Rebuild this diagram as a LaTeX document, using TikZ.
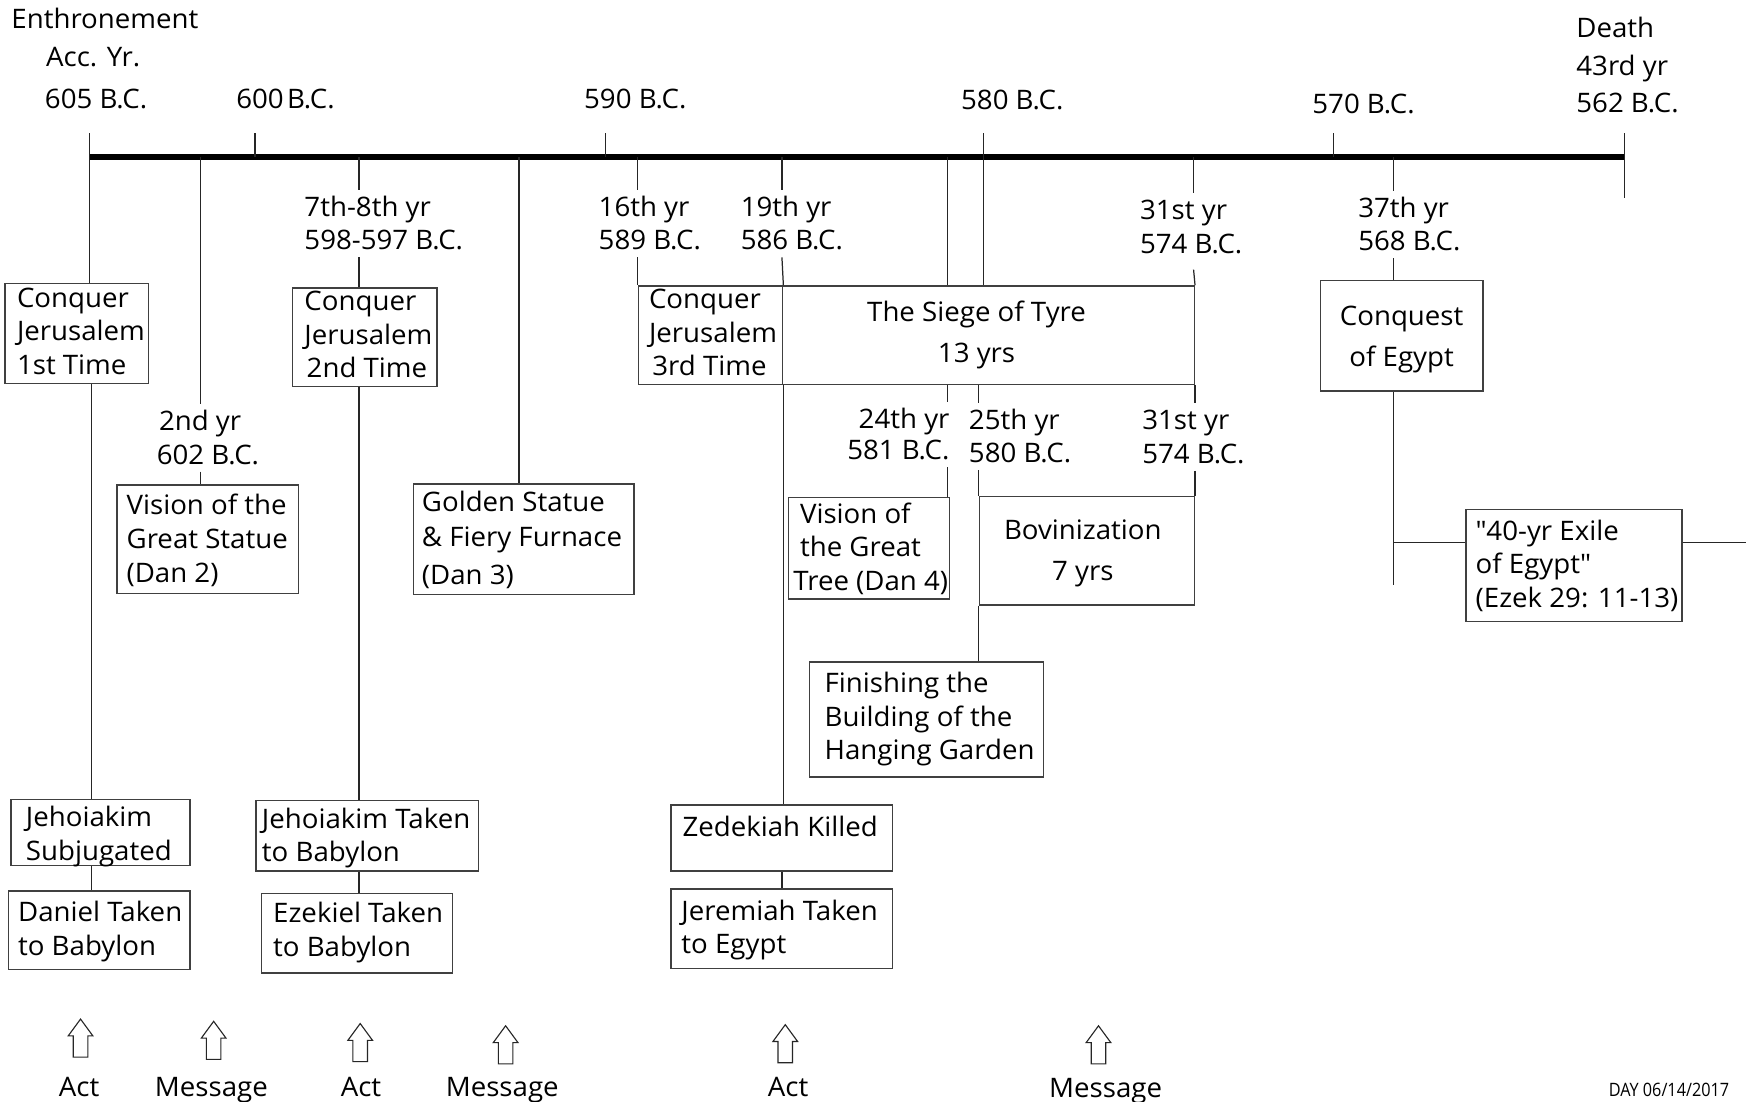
\documentclass[tikz,border=0pt]{standalone}
\usepackage{fontspec}
\setmainfont[FakeStretch=1.03]{Open Sans}
\newfontfamily\dayfont[FakeStretch=0.88]{Open Sans}
\newcommand\tstr{\rule{0pt}{20pt}}
\newcommand\bstr{\rule[-3pt]{0pt}{3pt}}
\newcommand\mainsize{\fontsize{24}{30}\selectfont}
\tikzset{
  ln/.style={line width=1.1pt, draw=black!85},
  box/.style={draw=black!75, line width=1.3pt, inner sep=0pt},
  tx/.style={inner sep=0pt, font=\mainsize, align=left, anchor=north west, yshift=11.4pt},
  txc/.style={tx, align=center, anchor=north},
  txb/.style={inner sep=0pt, font=\mainsize, anchor=base},
  lb/.style={inner xsep=0pt, inner ysep=3.5pt, font=\mainsize, align=left, anchor=north west, yshift=14.9pt},
  arr/.style={draw=black!85, line width=1pt, fill=white, line join=miter},
}
\newcommand\bx[5]{%
  \pgfmathsetmacro\bxw{#4-#2}\pgfmathsetmacro\bxh{#5-#3}%
  \node[box, minimum width=\bxw pt, minimum height=\bxh pt, anchor=north west] (#1) at (#2,#3) {};}
\newcommand\uparr[3]{%
  \coordinate (#1) at (#2,#3);
  \draw[arr] (#1) -- ++(11,15) -- ++(-4.5,0) -- ++(0,19) -- ++(-13,0) -- ++(0,-19) -- ++(-4.5,0) -- cycle;}
\begin{document}
\begin{tikzpicture}[x=1pt,y=-1pt]
\useasboundingbox (0,0) rectangle (1568,985);
\fill[white] (0,0) rectangle (1568,985);

% ---------- boxes ----------
\bx{b1}{4}{253}{132}{342}
\bx{b2}{261}{257}{390}{345}
\bx{b3}{570}{255}{699}{343}
\bx{siege}{699}{255}{1067}{343}
\bx{vstat}{104}{433}{266}{530}
\bx{gold}{369}{432}{566}{531}
\bx{tree}{704}{444}{848}{535}
\bx{bov}{875}{443}{1067}{540}
\bx{fin}{723}{591}{932}{694}
\bx{zed}{599}{719}{797}{778}
\bx{jer}{599}{794}{797}{865}
\bx{conq}{1180}{250}{1325}{349}
\bx{exile}{1310}{455}{1503}{555}
\bx{jsub}{9}{714}{169}{773}
\bx{dan}{7}{796}{169}{866}
\bx{jtak}{228}{715}{427}{778}
\bx{ezk}{233}{798}{404}{869}

% ---------- timeline ----------
\coordinate (tlA) at (80,140.5);
\coordinate (tlB) at (1452,140.5);
\draw[line width=5pt, line cap=butt] (tlA) -- (tlB);

\coordinate (a605) at (80,119);
\coordinate (a600) at (228,119);  \coordinate (m600) at (228,140);
\coordinate (a590) at (541,119);  \coordinate (m590) at (541,140);
\coordinate (a580) at (879,119);
\coordinate (a570) at (1192,119); \coordinate (m570) at (1192,140);
\coordinate (a562) at (1452,119); \coordinate (m562) at (1452,177);
\coordinate (v82) at (82,342);
\coordinate (v179) at (179,140);
\coordinate (v321) at (321,140);
\coordinate (v464) at (464,140);
\coordinate (v570) at (570,140);
\coordinate (v699) at (699,140);
\coordinate (v847) at (847,140);
\coordinate (v1067) at (1067,140);
\coordinate (v1246) at (1246,140);
\coordinate (e1246) at (1246,523);
\coordinate (h484) at (1246,485);
\coordinate (eR) at (1561,485);

% ---------- top labels ----------
\node[tx] (ent) at (10,17) {\tstr Enthronement};
\node[tx] (acc) at (41,50.7) {\tstr Acc. Yr.};
\node[tx] (y605) at (40,88) {\tstr 605 B.C.};
\node[tx] (y600) at (211,88) {\tstr 600\hspace{3pt}B.C.};
\node[tx] (y590) at (522,88) {\tstr 590 B.C.};
\node[tx] (y580) at (859,89.4) {\tstr 580 B.C.};
\node[tx] (y570) at (1173,93) {\tstr 570 B.C.};
\node[tx] (death) at (1409,25) {\tstr Death\\[3.5pt]43rd yr\\[3.5pt]562 B.C.};

% ---------- year labels ----------
\node[lb] (l7) at (272,184.5) {\tstr 7th-8th yr\\598-597 B.C.\bstr};
\node[lb] (l16) at (535,184.5) {\tstr 16th yr\\589 B.C.\bstr};
\node[lb] (l19) at (662,184.5) {\tstr 19th yr\\586 B.C.\bstr};
\node[lb] (l31a) at (1019,187.5) {\tstr 31st yr\\574 B.C.\rule[-11pt]{0pt}{3pt}};
\node[lb] (l37) at (1214,185.5) {\tstr 37th yr\\568 B.C.\bstr};
\node[lb] (l2) at (140,376) {\tstr\hspace*{2pt}2nd yr\\602 B.C.\bstr};
\node[lb, anchor=north east, align=right] (l24) at (849,374) {\tstr 24th yr\\[-2pt]581 B.C.\bstr};
\node[lb] (l25) at (866,375) {\tstr 25th yr\\580 B.C.\bstr};
\node[lb] (l31b) at (1021,375.5) {\tstr 31st yr\\574 B.C.\bstr};

% ---------- box texts ----------
\node[tx] (b1t) at (15,266) {\tstr Conquer\\Jerusalem\\1st Time};
\node[tx] (b2t) at (272,269) {\tstr Conquer\\Jerusalem\\\hspace*{2pt}2nd Time};
\node[tx] (b3t) at (580,267) {\tstr Conquer\\Jerusalem\\\hspace*{3pt}3rd Time};
\node[txc] (siegt) at (873,278.5) {\tstr The Siege of Tyre\\[7pt]13 yrs};
\node[tx] (vstatt) at (113,451.5) {\tstr Vision of the\\Great Statue\\(Dan 2)};
\node[tx] (goldt) at (377,448.5) {\tstr Golden Statue\\[1.5pt]\& Fiery Furnace\\[4pt](Dan 3)};
\node[tx] (treet) at (709,459) {\tstr\hspace*{6pt}Vision of\\\hspace*{6pt}the Great\\Tree (Dan 4)};
\node[txc] (bovt) at (968,473.5) {\tstr Bovinization\\[7pt]7 yrs};
\node[tx] (fint) at (737,610.5) {\tstr Finishing the\\Building of the\\Hanging Garden};
\node[txc] (conqt) at (1253,282) {\tstr Conquest\\[7pt]of Egypt};
\node[tx] (exilet) at (1319,474) {\tstr \textquotedbl 40-yr Exile\\of Egypt\textquotedbl\\(Ezek 29: 11-13)};
\node[tx] (jsubt) at (23,730) {\tstr Jehoiakim\\Subjugated};
\node[tx] (dant) at (16,815) {\tstr Daniel Taken\\to Babylon};
\node[tx] (jtakt) at (234,731.5) {\tstr Jehoiakim Taken\\to Babylon};
\node[tx] (ezkt) at (244,816) {\tstr Ezekiel Taken\\to Babylon};
\node[tx] (zedt) at (610,739) {\tstr Zedekiah Killed};
\node[tx] (jert) at (609,814) {\tstr Jeremiah Taken\\to Egypt};

% ---------- connectors ----------
\draw[ln] (a605) -- (a605 |- b1.north);
\draw[ln] (a600) -- (m600);
\draw[ln] (a590) -- (m590);
\draw[ln] (a570) -- (m570);
\draw[ln] (a562) -- (m562);
\draw[ln] (a580) -- (a580 |- siege.north);
\draw[ln] (v82 |- b1.south) -- (v82 |- jsub.north);
\draw[ln] (v82 |- jsub.south) -- (v82 |- dan.north);
\draw[ln] (v179) -- (v179 |- l2.north);
\draw[ln] (v179 |- l2.south) -- (v179 |- vstat.north);
\draw[ln] (v321) -- (v321 |- l7.north);
\draw[ln] (v321 |- l7.south) -- (v321 |- b2.north);
\draw[ln] (v321 |- b2.south) -- (v321 |- jtak.north);
\draw[ln] (v321 |- jtak.south) -- (v321 |- ezk.north);
\draw[ln] (v464) -- (v464 |- gold.north);
\draw[ln] (v570) -- (v570 |- l16.north);
\draw[ln] (v570 |- l16.south) -- (b3.north west);
\draw[ln] (v699) -- (v699 |- l19.north);
\draw[ln] (v699 |- l19.south) -- (b3.north east);
\draw[ln] (b3.south east) -- (b3.south east |- zed.north);
\draw[ln] (v699 |- zed.south) -- (v699 |- jer.north);
\draw[ln] (v847) -- (v847 |- siege.north);
\draw[ln] (v847 |- siege.south) -- (v847 |- l24.north);
\draw[ln] (v847 |- l24.south) -- (v847 |- tree.north);
\draw[ln] (bov.west |- siege.south) -- (bov.west |- l25.north);
\draw[ln] (bov.west |- l25.south) -- (bov.north west);
\draw[ln] (bov.south west) -- (bov.south west |- fin.north);
\draw[ln] (v1067) -- (v1067 |- l31a.north);
\draw[ln] (v1067 |- l31a.south) -- (siege.north east);
\draw[ln] (siege.south east) -- (siege.south east |- l31b.north);
\draw[ln] (siege.south east |- l31b.south) -- (bov.north east);
\draw[ln] (v1246) -- (v1246 |- l37.north);
\draw[ln] (v1246 |- l37.south) -- (v1246 |- conq.north);
\draw[ln] (v1246 |- conq.south) -- (e1246);
\draw[ln] (h484) -- (h484 -| exile.west);
\draw[ln] (h484 -| exile.east) -- (eR);

% ---------- bottom arrows and labels ----------
\uparr{ar1}{72}{911}
\uparr{ar2}{191}{913}
\uparr{ar3}{322}{915}
\uparr{ar4}{452}{917}
\uparr{ar5}{702}{916}
\uparr{ar6}{982}{917}
\node[txb] (act1) at (70.8,980.5) {Act};
\node[txb] (msg1) at (189,980.5) {Message};
\node[txb] (act2) at (322.7,980.5) {Act};
\node[txb] (msg2) at (449,980.5) {Message};
\node[txb] (act3) at (704.6,980.5) {Act};
\node[txb] (msg3) at (988.4,981) {Message};
\node[inner sep=0pt, anchor=base west, font=\dayfont\fontsize{16.5}{20}\selectfont] (day) at (1438,980) {DAY 06/14/2017};
\end{tikzpicture}
\end{document}
